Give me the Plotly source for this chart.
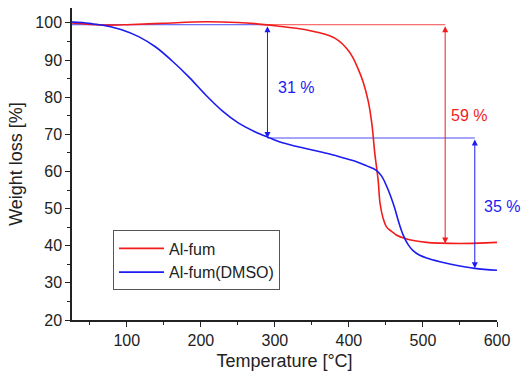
import plotly.graph_objects as go

# Al-fum (red)
temp_red = [25, 50, 71, 100, 150, 206, 250, 273, 305, 340, 374, 386, 397, 405, 412, 419, 426, 431, 435, 439.5, 442, 446, 451, 458, 464, 475, 487, 505, 523, 550, 575, 600]
wt_red = [100.0, 99.6, 99.4, 99.5, 99.9, 100.3, 100.1, 99.8, 99.1, 98.2, 96.5, 95.2, 93.1, 90.8, 87.8, 84.2, 79.0, 72.8, 64.8, 57.6, 51.5, 47.5, 45.0, 43.8, 42.9, 42.0, 41.4, 40.9, 40.7, 40.6, 40.7, 40.9]

# Al-fum(DMSO) (blue)
temp_blue = [25, 40, 55, 71, 94, 116, 139, 161, 184, 206, 229, 251, 273, 292, 307, 330, 352, 374, 397, 412, 424, 437, 444, 451, 456, 462, 467, 473, 480, 487, 495, 505, 523, 541, 570, 600]
wt_blue = [100.2, 100.1, 99.7, 99.2, 98.1, 96.3, 93.5, 89.8, 85.4, 80.7, 76.3, 73.0, 70.7, 69.1, 67.9, 66.7, 65.7, 64.7, 63.4, 62.5, 61.5, 60.3, 58.8, 56.0, 53.5, 50.0, 46.5, 43.0, 40.3, 38.6, 37.5, 36.7, 35.7, 34.9, 33.9, 33.4]

# Annotation brackets
t_step1 = 290
top_level = 99.5
mid_level = 69.0
t_red_arrow = 530
red_end = 40.6
t_blue_arrow = 570
blue_end = 33.9
labels = ["31 %", "59 %", "35 %"]

RED = "#f21c1c"
BLUE = "#1c1cf2"

fig = go.Figure()

# thin reference lines
fig.add_trace(go.Scatter(x=[25, t_step1], y=[top_level, top_level], mode="lines",
                         line=dict(color=BLUE, width=0.8), showlegend=False, hoverinfo="skip"))
fig.add_trace(go.Scatter(x=[t_step1, t_red_arrow], y=[top_level, top_level], mode="lines",
                         line=dict(color=RED, width=0.8), showlegend=False, hoverinfo="skip"))
fig.add_trace(go.Scatter(x=[t_step1, t_blue_arrow], y=[mid_level, mid_level], mode="lines",
                         line=dict(color=BLUE, width=0.8), showlegend=False, hoverinfo="skip"))

fig.add_trace(go.Scatter(x=temp_red, y=wt_red, mode="lines", name="Al-fum",
                         line=dict(color=RED, width=1.6, shape="spline", smoothing=1.0)))
fig.add_trace(go.Scatter(x=temp_blue, y=wt_blue, mode="lines", name="Al-fum(DMSO)",
                         line=dict(color=BLUE, width=1.6, shape="spline", smoothing=1.0)))

def arrow(x, y0, y1, color):
    fig.add_annotation(x=x, y=y1, ax=x, ay=y0, xref="x", yref="y", axref="x", ayref="y",
                       text="", showarrow=True, arrowhead=2, arrowside="end+start",
                       arrowsize=1.2, arrowwidth=1, arrowcolor=color)

arrow(t_step1, top_level, mid_level, BLUE)
arrow(t_red_arrow, top_level, red_end, RED)
arrow(t_blue_arrow, mid_level, blue_end, BLUE)

fig.add_annotation(x=329, y=82.6, xref="x", yref="y", text=labels[0], showarrow=False,
                   font=dict(color=BLUE, size=16))
fig.add_annotation(x=562, y=75.0, xref="x", yref="y", text=labels[1], showarrow=False,
                   font=dict(color=RED, size=16))
fig.add_annotation(x=0.965, y=50.6, xref="paper", yref="y", xanchor="left", text=labels[2],
                   showarrow=False, font=dict(color=BLUE, size=16))

axis_common = dict(showgrid=False, zeroline=False, showline=True, linecolor="#222",
                   linewidth=1.5, ticks="outside", ticklen=5, tickwidth=1.3, tickcolor="#222",
                   tickfont=dict(size=16, color="#222"), mirror=False)

fig.update_xaxes(range=[26, 600], tick0=0, dtick=100,
                 minor=dict(ticks="outside", ticklen=3, dtick=50, tick0=0, tickcolor="#222"),
                 title=dict(text="Temperature [°C]", font=dict(size=18, color="#222"), standoff=6),
                 **axis_common)
fig.update_yaxes(range=[20, 104], tick0=0, dtick=10,
                 minor=dict(ticks="outside", ticklen=3, dtick=5, tick0=0, tickcolor="#222"),
                 title=dict(text="Weight loss [%]", font=dict(size=18, color="#222"), standoff=8),
                 **axis_common)

fig.update_layout(
    width=521, height=376,
    margin=dict(l=72, r=24, t=8, b=54),
    plot_bgcolor="white", paper_bgcolor="white",
    font=dict(family="Liberation Sans, Arial, sans-serif", color="#222"),
    legend=dict(x=0.0965, y=0.287, xanchor="left", yanchor="top",
                bordercolor="#555", borderwidth=1, bgcolor="white",
                font=dict(size=16), itemwidth=45, tracegroupgap=0),
)

fig.write_html("out.html")
